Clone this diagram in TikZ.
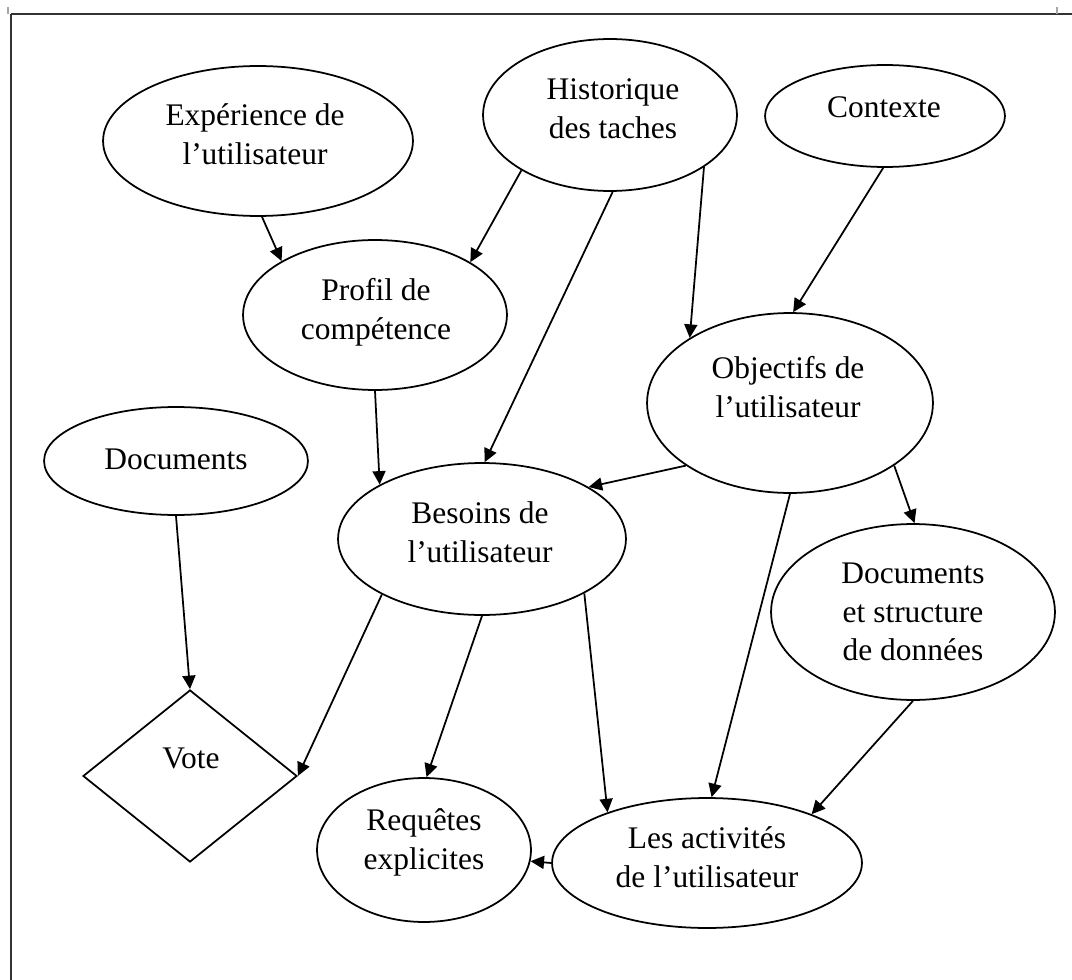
\documentclass[tikz,border=0pt]{standalone}
\usepackage{fontspec}
\setmainfont{Liberation Serif}
\usetikzlibrary{shapes.geometric,arrows.meta}
\begin{document}
\begin{tikzpicture}[x=0.02cm,y=-0.02cm,
  shp/.style={draw, line width=1pt, inner sep=0pt},
  ell/.style 2 args={shp, ellipse, minimum width=#1*0.04cm, minimum height=#2*0.04cm},
  txt/.style={align=center, inner sep=0pt, font=\fontsize{17.9pt}{22.1pt}\selectfont},
  arr/.style={line width=1pt, -{Triangle[length=0.27cm,width=0.26cm]}},
  framel/.style={draw=black!80, line width=1.4pt},
  tick/.style={draw=black!35, line width=0.6pt}]
\useasboundingbox (0,0) rectangle (1072,980);
% frame
\draw[framel] (11,14) -- (1072,14);
\draw[framel] (11,14) -- (11,980);
\draw[tick] (8,7) -- (8,14);
\draw[tick] (1057,7) -- (1057,14);
% shapes
\node[ell={155}{75}] (exp) at (258,141) {};
\node[ell={127}{76}] (hist) at (610,115) {};
\node[ell={120}{51}] (ctx) at (885,116) {};
\node[ell={132}{75}] (prof) at (375,315) {};
\node[ell={143}{90}] (obj) at (790,403) {};
\node[ell={132}{54}] (doc) at (176,461) {};
\node[ell={144}{76}] (bes) at (482,539) {};
\node[ell={142}{88}] (dsd) at (913,612) {};
\node[ell={107}{72}] (req) at (424,850) {};
\node[ell={155}{65}] (act) at (707,863) {};
\node[shp, diamond, minimum width=214*0.02cm, minimum height=172*0.02cm] (vote) at (190,776) {};
% texts
\node[txt] (expT) at (255,134.5) {Expérience de\\l’utilisateur};
\node[txt] (histT) at (613,108.5) {Historique\\des taches};
\node[txt] (ctxT) at (884,107.5) {Contexte};
\node[txt] (profT) at (376,312) {Profil de\\compétence};
\node[txt] (objT) at (788,387) {Objectifs de\\l’utilisateur};
\node[txt] (docT) at (176,459) {Documents};
\node[txt] (besT) at (480,532) {Besoins de\\l’utilisateur};
\node[txt] (dsdT) at (913,612) {Documents\\et structure\\de données};
\node[txt] (reqT) at (424,842) {Requêtes\\explicites};
\node[txt] (actT) at (707,857) {Les activités\\de l’utilisateur};
\node[txt] (voteT) at (191,758) {Vote};
% connectors
\draw[arr] (exp.-87) -- (prof.150.3);
\draw[arr] (hist.-148.2) -- (prof.29.2);
\draw[arr] (hist.-88) -- (bes.88.5);
\draw[arr] (hist.-29.2) -- (obj.147.8);
\draw[arr] (ctx.-92) -- (obj.88.7);
\draw[arr] (prof.-90) -- (bes.152.1);
\draw[arr] (obj.-149) -- (bes.26.3);
\draw[arr] (obj.-90) -- (act.86);
\draw[arr] (obj.-31.4) -- (dsd.89);
\draw[arr] (doc.-90) -- (vote.north);
\draw[arr] (bes.-151.2) -- (vote.east);
\draw[arr] (bes.-90) -- (req.88);
\draw[arr] (bes.-28.1) -- (act.153.2);
\draw[arr] (dsd.-90) -- (act.25.6);
\draw[arr] (act.180) -- (req.-6.9);
\end{tikzpicture}
\end{document}
